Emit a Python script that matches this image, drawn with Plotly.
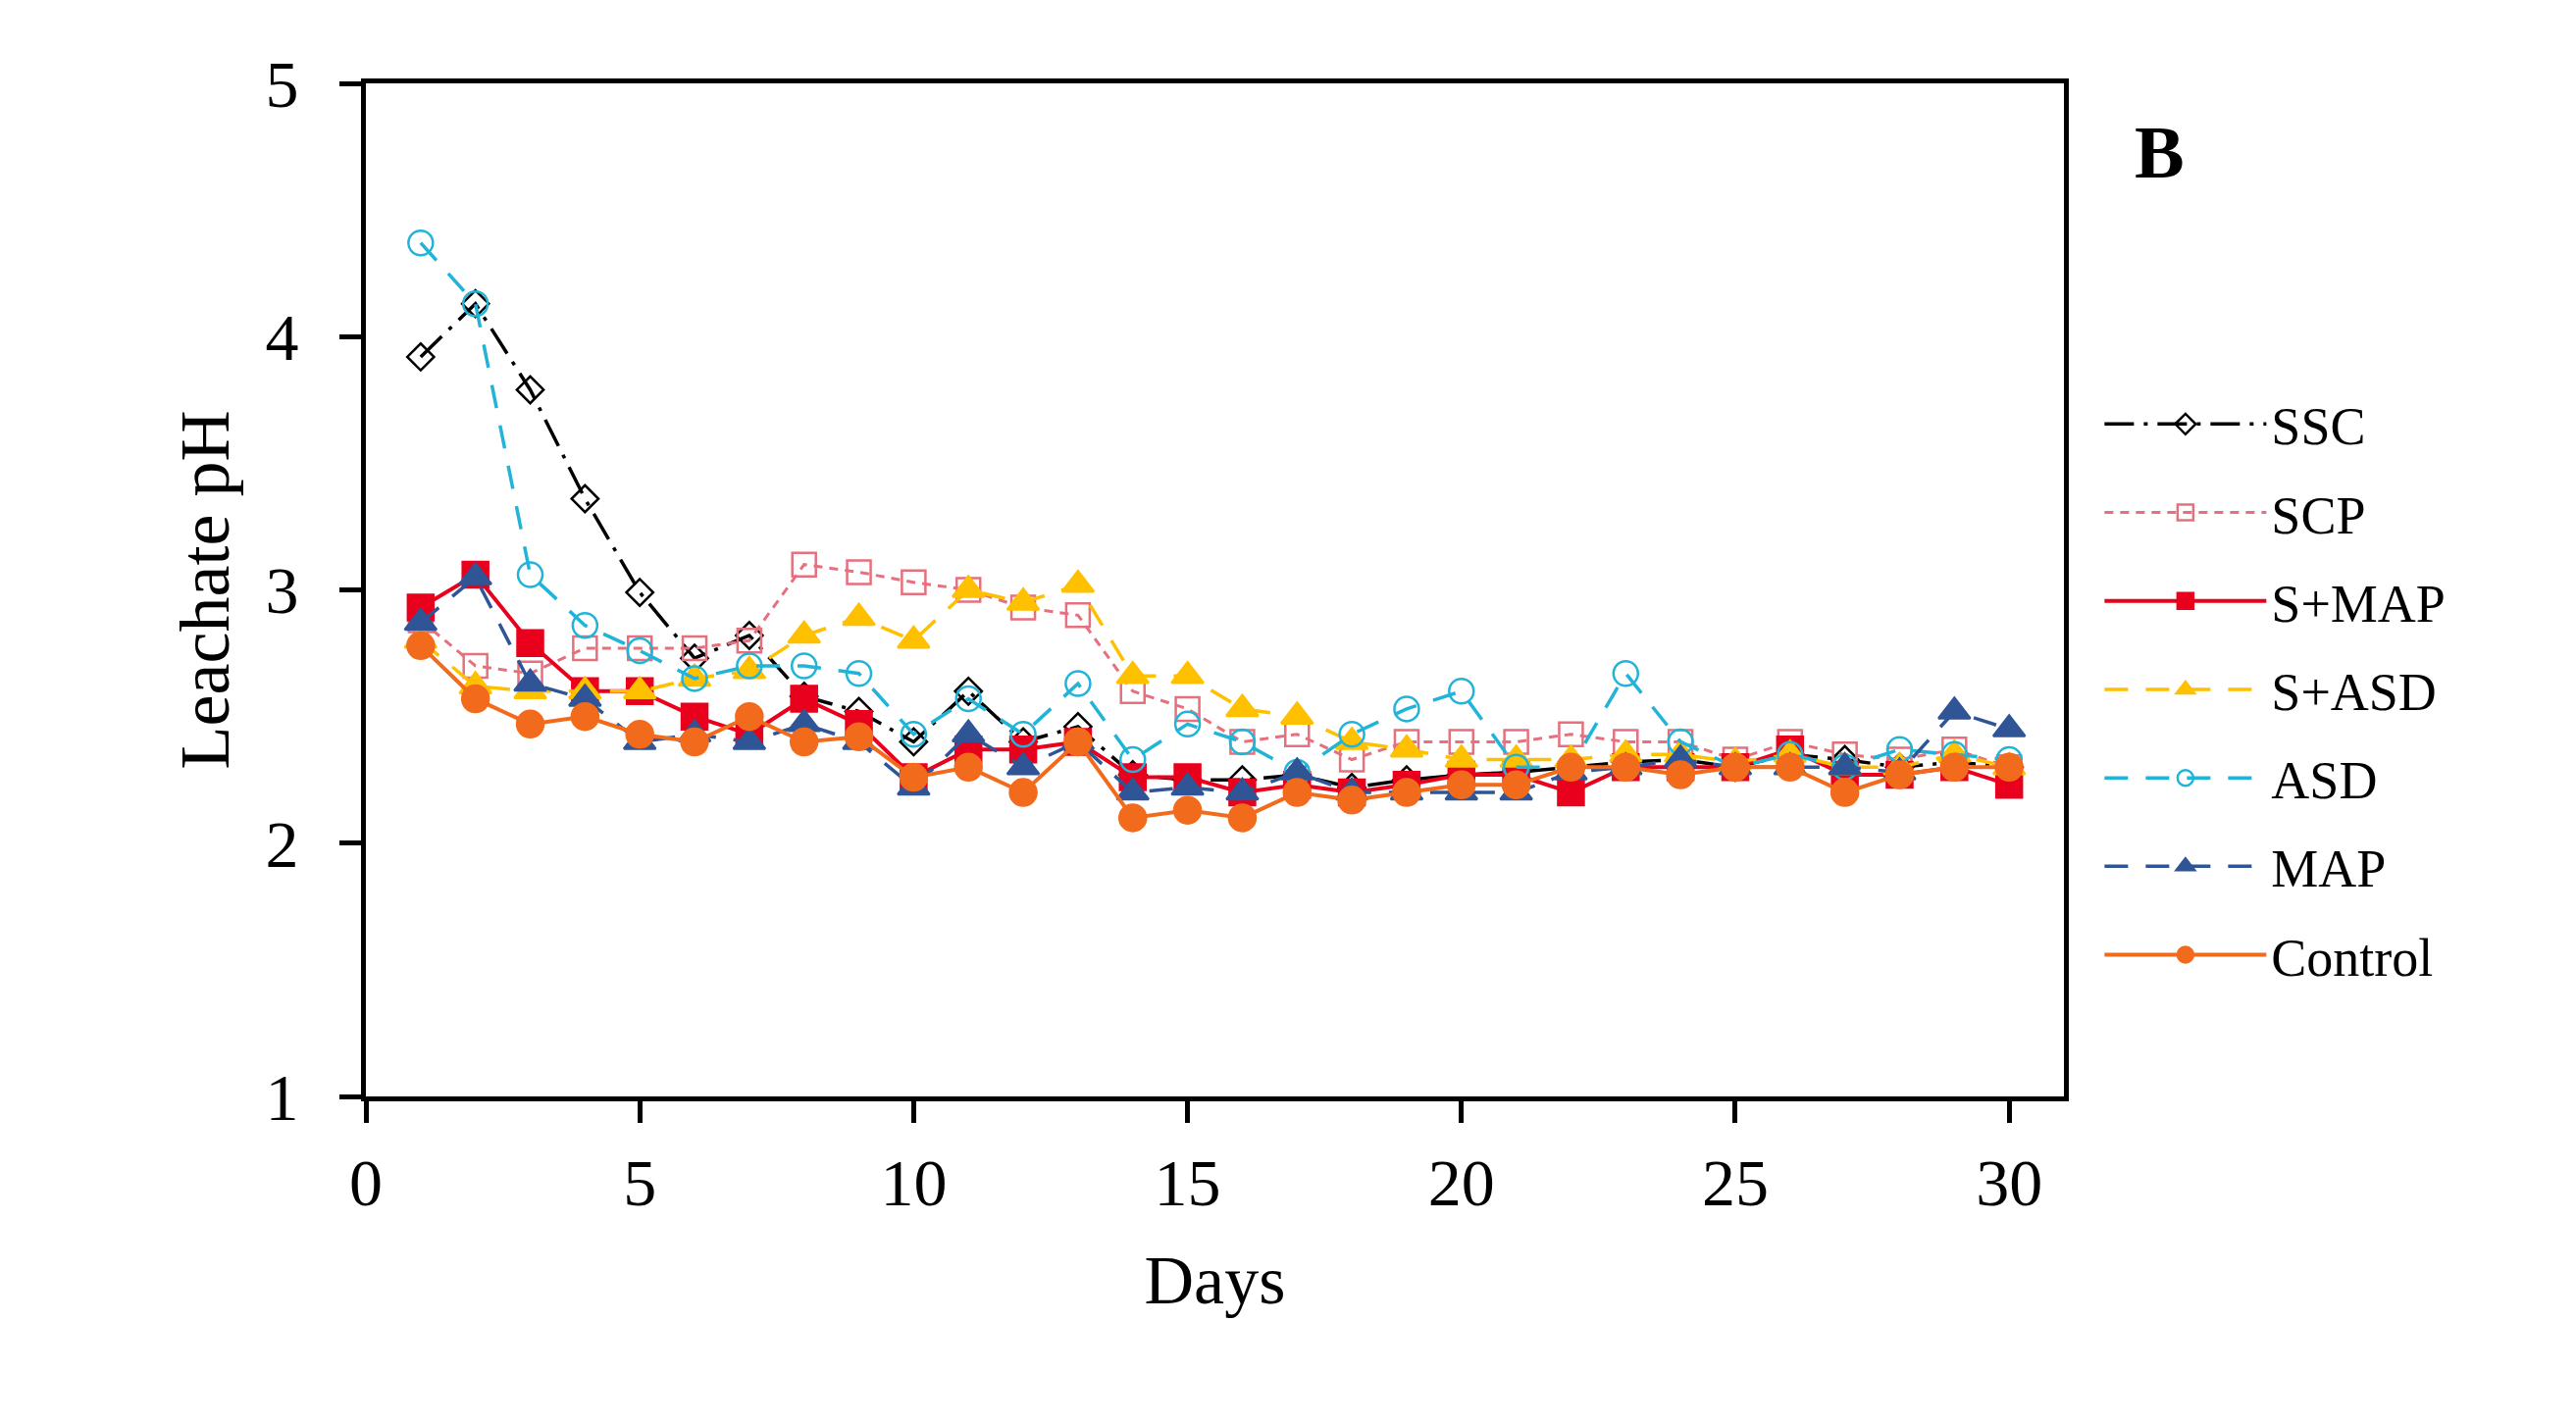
import plotly.graph_objects as go

days = list(range(1, 31))

ssc = [3.92, 4.13, 3.79, 3.36, 2.99, 2.73, 2.82, 2.58, 2.52, 2.40,
       2.60, 2.40, 2.46, 2.27, 2.25, 2.25, 2.27, 2.22, 2.25, 2.27,
       2.28, 2.30, 2.32, 2.33, 2.30, 2.35, 2.33, 2.30, 2.32, 2.30]
scp = [2.88, 2.70, 2.67, 2.77, 2.77, 2.77, 2.80, 3.10, 3.07, 3.03,
       3.00, 2.93, 2.90, 2.60, 2.53, 2.40, 2.43, 2.33, 2.40, 2.40,
       2.40, 2.43, 2.40, 2.40, 2.33, 2.40, 2.35, 2.33, 2.37, 2.30]
s_map = [2.93, 3.06, 2.79, 2.60, 2.60, 2.50, 2.43, 2.57, 2.47, 2.26,
         2.37, 2.37, 2.40, 2.26, 2.26, 2.20, 2.23, 2.20, 2.23, 2.27,
         2.27, 2.20, 2.30, 2.30, 2.30, 2.37, 2.27, 2.27, 2.30, 2.23]
s_asd = [2.80, 2.62, 2.60, 2.60, 2.60, 2.65, 2.68, 2.82, 2.89, 2.80,
         3.00, 2.95, 3.02, 2.66, 2.66, 2.53, 2.50, 2.40, 2.37, 2.33,
         2.33, 2.33, 2.35, 2.35, 2.32, 2.35, 2.30, 2.30, 2.35, 2.30]
asd = [4.37, 4.13, 3.06, 2.86, 2.76, 2.65, 2.70, 2.70, 2.67, 2.43,
       2.57, 2.43, 2.63, 2.33, 2.47, 2.40, 2.28, 2.43, 2.53, 2.60,
       2.30, 2.30, 2.67, 2.40, 2.30, 2.35, 2.30, 2.37, 2.35, 2.33]
map_ = [2.87, 3.05, 2.63, 2.57, 2.40, 2.43, 2.40, 2.47, 2.40, 2.22,
        2.43, 2.30, 2.40, 2.20, 2.22, 2.20, 2.28, 2.20, 2.20, 2.20,
        2.20, 2.28, 2.30, 2.33, 2.30, 2.30, 2.30, 2.28, 2.52, 2.45]
control = [2.78, 2.57, 2.47, 2.50, 2.43, 2.40, 2.50, 2.40, 2.42, 2.26,
           2.30, 2.20, 2.40, 2.10, 2.13, 2.10, 2.20, 2.17, 2.20, 2.23,
           2.23, 2.30, 2.30, 2.27, 2.30, 2.30, 2.20, 2.27, 2.30, 2.30]

FONT = "Liberation Serif"

# name, values, line colour, dash, width, marker symbol, marker size
series = [
    ("SSC", ssc, "black", "30px,10px,4px,10px", 3.5, "diamond-open", 21),
    ("SCP", scp, "#E5707E", "9px,7px", 3, "square-open", 24),
    ("S+MAP", s_map, "#E8001C", "solid", 4, "square", 26),
    ("S+ASD", s_asd, "#FFC000", "24px,18px", 3.5, "triangle-up", 28),
    ("ASD", asd, "#22B4D8", "24px,18px", 3.5, "circle-open", 25),
    ("MAP", map_, "#2F5597", "24px,18px", 3.5, "triangle-up", 28),
    ("Control", control, "#F26B1D", "solid", 4, "circle", 27),
]

fig = go.Figure()
for i, (name, vals, col, dash, w, sym, sz) in enumerate(series):
    fig.add_trace(go.Scatter(
        x=days, y=vals, name=name, mode="lines+markers",
        legendgroup=str(i),
        line=dict(color=col, dash=dash, width=w),
        marker=dict(symbol=sym, size=sz, color=col,
                    line=dict(color=col, width=2.5)),
    ))

fig.add_annotation(text="<b>B</b>", xref="paper", yref="paper",
                   x=1.072, y=0.975, showarrow=False,
                   font=dict(family=FONT, size=76, color="black"))

axis_common = dict(
    showgrid=False, zeroline=False, showline=True, linecolor="black",
    linewidth=5, mirror=True, ticks="outside", ticklen=22, tickwidth=5,
    tickcolor="black", tickfont=dict(family=FONT, size=68, color="black"),
)

fig.update_layout(
    width=2626, height=1451,
    margin=dict(l=365, r=530, t=77, b=341),
    plot_bgcolor="white", paper_bgcolor="white",
    font=dict(family=FONT, color="black"),
    legend=dict(x=1.021, y=0.704, xanchor="left", yanchor="top",
                font=dict(family=FONT, size=54, color="black"),
                itemwidth=165, tracegroupgap=17, traceorder="grouped",
                bgcolor="rgba(0,0,0,0)"),
    showlegend=True,
)
fig.update_xaxes(range=[0, 31], tickvals=[0, 5, 10, 15, 20, 25, 30],
                 ticklabelstandoff=2,
                 title=dict(text="Days", font=dict(family=FONT, size=70),
                            standoff=39),
                 **axis_common)
fig.update_yaxes(range=[1, 5], dtick=1, ticklabelstandoff=28,
                 title=dict(text="Leachate pH", font=dict(family=FONT, size=72),
                            standoff=15),
                 **axis_common)

fig.write_html("out.html")
